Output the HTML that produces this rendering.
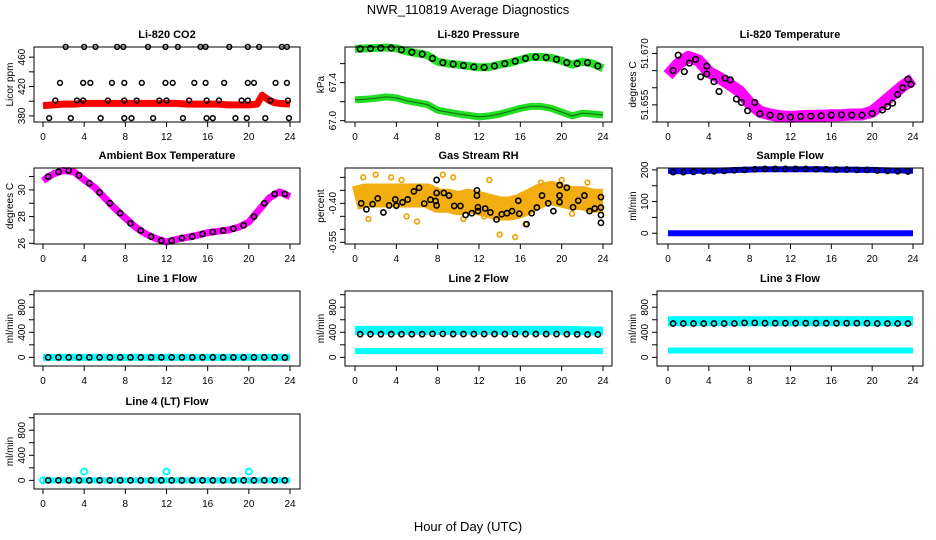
<!DOCTYPE html>
<html><head><meta charset="utf-8"><style>
html,body{margin:0;padding:0;background:#fff}
svg{display:block;font-family:"Liberation Sans",sans-serif}
</style></head><body>
<svg id="chart" width="936" height="540" viewBox="0 0 936 540" xmlns="http://www.w3.org/2000/svg">
<rect width="936" height="540" fill="#fff"/>
<text x="468" y="14" text-anchor="middle" font-size="13">NWR_110819  Average Diagnostics</text>
<text x="468" y="531" text-anchor="middle" font-size="13">Hour of Day (UTC)</text>
</svg>
<script>
const HOURS=[0,1,2,3,4,5,6,7,8,9,10,11,12,13,14,15,16,17,18,19,20,21,22,23,24];
const HALF=[0.5,1.5,2.5,3.5,4.5,5.5,6.5,7.5,8.5,9.5,10.5,11.5,12.5,13.5,14.5,15.5,16.5,17.5,18.5,19.5,20.5,21.5,22.5,23.5];
const X_TICKS=[0,4,8,12,16,20,24];

const co2BandH=[0,1,2,3,4,5,6,7,8,9,10,11,12,13,14,15,16,17,18,19,20,20.8,21.3,22,22.5,23,24];
const co2BandV=[394,395,396,396,397,397,397,397,397,397,397,397,397,397,396,396,396,396,395,395,395,396,408,401,398,397,396];
const co2BlackH=[2.2,4.0,5.1,7.2,7.8,10.2,11.9,13.1,15.3,15.8,18.1,19.9,21.0,23.2,23.7,1.65,3.9,4.6,6.7,7.9,9.6,11.9,12.6,14.7,15.8,17.6,19.9,20.5,22.6,23.7,1.2,3.3,3.9,6.3,7.9,9.1,11.3,12.0,14.2,15.9,17.1,19.3,19.9,22.1,23.8,0.6,2.7,5.6,7.9,8.6,10.7,13.6,15.9,16.5,18.7,19.8,21.6,23.9];
const co2BlackV=[474,474,474,474,474,474,474,474,474,474,474,474,474,474,474,425,425,425,425,425,425,425,425,425,425,425,425,425,425,425,401,401,401,401,401,401,401,401,401,401,401,401,401,401,401,377,377,377,377,377,377,377,377,377,377,377,377,377];

const presUpperV=[67.755,67.76,67.765,67.77,67.76,67.73,67.71,67.69,67.62,67.60,67.59,67.575,67.56,67.565,67.59,67.61,67.64,67.67,67.67,67.66,67.63,67.59,67.62,67.60,67.55];
const presLowerV=[67.22,67.225,67.235,67.25,67.24,67.21,67.19,67.17,67.11,67.09,67.07,67.055,67.04,67.05,67.07,67.10,67.13,67.15,67.15,67.13,67.09,67.05,67.08,67.07,67.06];
const presBlackV=[67.755,67.76,67.765,67.765,67.745,67.72,67.70,67.655,67.61,67.595,67.58,67.565,67.56,67.575,67.60,67.625,67.655,67.67,67.665,67.645,67.61,67.60,67.61,67.575];

const tempBandV=[51.6637,51.667,51.669,51.668,51.6646,51.663,51.661,51.659,51.6555,51.653,51.6522,51.6517,51.6515,51.6517,51.6518,51.6518,51.652,51.652,51.6522,51.6522,51.653,51.6555,51.658,51.6605,51.6625];
const tempBlackH=[0.5,1,1.6,2.1,2.7,3.2,3.8,3.8,4.5,5,5.6,6.1,6.7,7.2,7.8,8.5,9,10,11,12,13,14,15,16,17,18,19,20,21,21.5,22,22.5,23,23.5,23.8];
const tempBlackV=[51.665,51.6695,51.6647,51.6672,51.6683,51.6632,51.6663,51.664,51.6618,51.6589,51.6628,51.6623,51.6567,51.6557,51.6533,51.6557,51.6524,51.652,51.6516,51.6514,51.6516,51.6517,51.6518,51.652,51.6521,51.652,51.652,51.6525,51.6535,51.6545,51.6555,51.658,51.66,51.6625,51.661];

const ambBandV=[30.7,31.2,31.45,31.35,30.75,30.2,29.4,28.6,27.9,27.2,26.7,26.35,26.1,26.3,26.45,26.6,26.8,26.9,27.0,27.2,27.6,28.5,29.4,29.85,29.5];
const ambBlackV=[31.0,31.35,31.45,31.1,30.5,29.8,29.0,28.25,27.5,26.95,26.5,26.2,26.2,26.4,26.5,26.7,26.85,26.95,27.1,27.35,28.0,29.0,29.7,29.7];

const rhBandV=[-0.38,-0.37,-0.37,-0.37,-0.37,-0.37,-0.37,-0.37,-0.39,-0.39,-0.40,-0.39,-0.40,-0.41,-0.42,-0.42,-0.41,-0.39,-0.37,-0.36,-0.37,-0.38,-0.38,-0.39,-0.39];
const rhScatterH=[0.8,2,3.5,9.5,13,14,15.5,16.5,6,1.3,10.5,20,4.5,18,22.5,8.5,12.5,5,21];
const rhScatterV=[-0.30,-0.29,-0.30,-0.30,-0.31,-0.52,-0.53,-0.48,-0.47,-0.46,-0.46,-0.31,-0.31,-0.32,-0.32,-0.29,-0.45,-0.45,-0.44];
const rhBlackH=[0.6,1.1,1.7,2.2,2.75,3.3,3.9,4,4.6,5.1,5.7,6.2,6.7,7.3,7.8,7.9,7.9,7.9,8.6,9.1,9.6,10.2,10.7,11.3,11.8,11.8,11.9,11.9,12.6,13.1,13.7,14.2,14.7,15.2,15.8,15.9,16.6,17.1,17.6,18.1,18.7,19.2,19.8,19.8,19.8,20.5,21.1,21.6,22.2,22.7,23.2,23.8,23.8,23.8,23.8];
const rhBlackV=[-0.40,-0.423,-0.403,-0.381,-0.435,-0.408,-0.385,-0.409,-0.396,-0.385,-0.354,-0.34,-0.401,-0.386,-0.391,-0.31,-0.36,-0.408,-0.36,-0.37,-0.41,-0.41,-0.445,-0.438,-0.35,-0.37,-0.415,-0.43,-0.42,-0.435,-0.462,-0.442,-0.438,-0.43,-0.39,-0.44,-0.48,-0.438,-0.416,-0.37,-0.40,-0.43,-0.33,-0.37,-0.395,-0.34,-0.415,-0.39,-0.37,-0.43,-0.42,-0.445,-0.416,-0.376,-0.475];

const sampleUpperV=[197,196,196,197,197,198,199,200,201,202,202,202,202,202,202,202,201,201,201,200,200,199,198,198,197];
const sampleLowerV=[0,0,0,0,0,0,0,0,0,0,0,0,0,0,0,0,0,0,0,0,0,0,0,0,0];
const sampleBlackV=[193,193,194,195,196,197,199,200,202,203,203,203,203,203,202,202,201,201,200,200,198,197,196,195];

const line1CyanV=[0,0,0,0,0,0,0,0,0,0,0,0,0,0,0,0,0,0,0,0,0,0,0,0,0];
const line1BlackV=[0,0,0,0,0,0,0,0,0,0,0,0,0,0,0,0,0,0,0,0,0,0,0,-5];
const line2UpperV=[430,430,430,430,430,430,430,430,430,430,430,430,430,430,430,430,430,430,430,430,430,430,425,420,420];
const line2LowerV=[100,100,100,100,100,100,100,100,100,100,100,100,100,100,100,100,100,100,100,100,100,100,100,100,100];
const line2BlackV=[370,370,370,370,370,370,370,375,375,372,372,372,372,372,372,372,372,372,372,372,370,368,365,365];
const line3UpperV=[575,575,575,575,575,575,575,575,575,575,575,575,575,575,575,575,575,575,575,575,575,575,575,580,580];
const line3LowerV=[110,110,110,110,110,110,110,110,110,110,110,110,110,110,110,110,110,110,110,110,110,110,110,110,110];
const line3BlackV=[540,540,540,540,540,540,540,550,550,545,545,545,545,545,545,545,545,545,545,545,540,540,540,540];
const line4CyanV=[0,0,0,0,0,0,0,0,0,0,0,0,0,0,0,0,0,0,0,0,0,0,0,0,0];
const line4SpikeH=[0,4,12,20];
const line4SpikeV=[0,140,140,140];
const line4BlackV=[0,0,0,0,0,0,0,0,0,0,0,0,0,0,0,0,0,0,0,0,0,0,0,0];

const svg=document.getElementById('chart');
const NS='http://www.w3.org/2000/svg';
const COLS=[{l:34,r:300,x0:43,x1:290},{l:345,r:612,x0:355,x1:603},{l:657,r:923,x0:668,x1:913}];
const ROWS=[{t:47,b:122},{t:168,b:244},{t:291,b:366},{t:414,b:489}];
function mk(tag,attrs,parent){const e=document.createElementNS(NS,tag);for(const k in attrs)e.setAttribute(k,attrs[k]);(parent||svg).appendChild(e);return e;}

function panel(name,ci,ri,title,ytitle,ymin,ymax,yticks,ylabels){
  const c=COLS[ci],r=ROWS[ri];
  const g=mk('g',{});
  
  
  const sx=h=>c.x0+(c.x1-c.x0)*h/24;
  const sy=v=>r.b-(v-ymin)/(ymax-ymin)*(r.b-r.t);
  const plot=mk('g',{},g);
  
  
  const t=mk('text',{x:(c.l+c.r)/2,y:r.t-9,'text-anchor':'middle','font-size':'11','font-weight':'bold'},g);
  t.textContent=title;
  
  
  const box=mk('rect',{x:c.l,y:r.t,width:c.r-c.l,height:r.b-r.t,fill:'none',stroke:'#000','stroke-width':'1'},g);
  
  
  X_TICKS.forEach(h=>{
    mk('line',{x1:sx(h),x2:sx(h),y1:r.b,y2:r.b+5,stroke:'#000'},g);
    const tl=mk('text',{x:sx(h),y:r.b+18,'text-anchor':'middle','font-size':'10'},g);
    tl.textContent=h;
    
    
  });
  yticks.forEach(v=>{mk('line',{x1:c.l-5,x2:c.l,y1:sy(v),y2:sy(v),stroke:'#000'},g);});
  ylabels.forEach(v=>{
    const y=sy(v);
    const tl=mk('text',{x:c.l-9,y:y,'text-anchor':'middle','font-size':'10',transform:`rotate(-90 ${c.l-9} ${y})`},g);
    tl.textContent=v;
    
    
  });
  const yc=(r.t+r.b)/2;
  const yt=mk('text',{x:c.l-21,y:yc,'text-anchor':'middle','font-size':'10',transform:`rotate(-90 ${c.l-21} ${yc})`},g);
  yt.textContent=ytitle;
  
  
  g.insertBefore(plot,box);
  return {sx,sy,plot};
}
function band(p,name,hs,vs,color,w){
  const pts=hs.map((h,i)=>p.sx(h).toFixed(1)+','+p.sy(vs[i]).toFixed(1)).join(' ');
  const pl=mk('polyline',{points:pts,fill:'none',stroke:color,'stroke-width':w,'stroke-linejoin':'round','stroke-linecap':'butt'},p.plot);
  
  
}
function pts(p,name,hs,vs,color,rad,sw){
  const g=mk('g',{},p.plot);
  
  
  hs.forEach((h,i)=>{
    const c=mk('circle',{cx:p.sx(h),cy:p.sy(vs[i]),r:rad,fill:'none',stroke:color,'stroke-width':sw},g);
    
    
  });
}

let p;
p=panel('co2',0,0,'Li-820 CO2','Licor ppm',371.7,473.8,[380,400,420,440,460],[380,420,460]);
band(p,'co2-red-band',co2BandH,co2BandV,'#ff0000',7);
pts(p,'co2-black-points',co2BlackH,co2BlackV,'#000',2.4,1.5);

p=panel('pressure',1,0,'Li-820 Pressure','kPa',66.986,67.775,[67.0,67.2,67.4,67.6],['67.0','67.4']);
band(p,'pressure-upper-band',HOURS,presUpperV,'#22e022',8);
band(p,'pressure-lower-band',HOURS,presLowerV,'#22dd22',7);
band(p,'pressure-lower-dots',HOURS,presLowerV,'#116611',1);
pts(p,'pressure-black-points',HALF,presBlackV,'#000',2.8,1.6);

p=panel('temperature',2,0,'Li-820 Temperature','degrees C',51.650,51.6719,[51.650,51.655,51.660,51.665,51.670],['51.655','51.670']);
band(p,'temperature-magenta-band',HOURS,tempBandV,'#ff00ff',12);
pts(p,'temperature-black-points',tempBlackH,tempBlackV,'#000',2.8,1.6);

p=panel('ambient',0,1,'Ambient Box Temperature','degrees C',25.95,31.64,[26,27,28,29,30,31],[26,28,30]);
band(p,'ambient-magenta-band',HOURS,ambBandV,'#ff00ff',7);
pts(p,'ambient-black-points',HALF,ambBlackV,'#000',2.6,1.6);

p=panel('gas-rh',1,1,'Gas Stream RH','percent',-0.5565,-0.264,[-0.30,-0.35,-0.40,-0.45,-0.50,-0.55],['-0.40','-0.55']);
band(p,'rh-orange-band',HOURS,rhBandV,'#f2ad10',24);
pts(p,'rh-orange-scatter',rhScatterH,rhScatterV,'#f0a000',2.4,1.6);
pts(p,'rh-black-points',rhBlackH,rhBlackV,'#000',2.6,1.6);

p=panel('sample-flow',2,1,'Sample Flow','ml/min',-34,206,[0,50,100,150,200],[0,100,200]);
band(p,'sample-upper-band',HOURS,sampleUpperV,'#0000ff',6);
band(p,'sample-lower-band',HOURS,sampleLowerV,'#0000ff',6);
pts(p,'sample-black-points',HALF,sampleBlackV,'#000',2.6,1.6);

const FT=[0,200,400,600,800,1000],FL=[0,400,800];
p=panel('line1-flow',0,2,'Line 1 Flow','ml/min',-138,1059,FT,FL);
band(p,'line1-cyan-band',HOURS,line1CyanV,'#00ffff',7);
pts(p,'line1-black-points',HALF,line1BlackV,'#000',2.6,1.6);

p=panel('line2-flow',1,2,'Line 2 Flow','ml/min',-138,1059,FT,FL);
band(p,'line2-upper-cyan-band',HOURS,line2UpperV,'#00ffff',9);
band(p,'line2-lower-cyan-band',HOURS,line2LowerV,'#00ffff',6);
pts(p,'line2-black-points',HALF,line2BlackV,'#000',2.6,1.6);

p=panel('line3-flow',2,2,'Line 3 Flow','ml/min',-138,1059,FT,FL);
band(p,'line3-upper-cyan-band',HOURS,line3UpperV,'#00ffff',10);
band(p,'line3-lower-cyan-band',HOURS,line3LowerV,'#00ffff',6);
pts(p,'line3-black-points',HALF,line3BlackV,'#000',2.6,1.6);

p=panel('line4-flow',0,3,'Line 4 (LT) Flow','ml/min',-138,1059,FT,FL);
band(p,'line4-cyan-band',HOURS,line4CyanV,'#00ffff',6);
pts(p,'line4-cyan-spikes',line4SpikeH,line4SpikeV,'#00ffff',3,2);
pts(p,'line4-black-points',HALF,line4BlackV,'#000',2.6,1.6);
</script>
</body></html>
